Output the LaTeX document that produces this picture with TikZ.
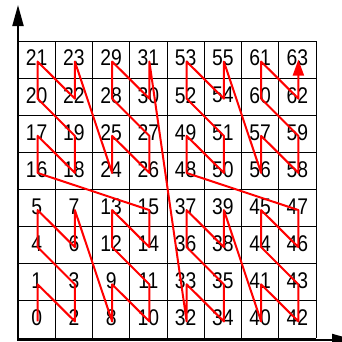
\documentclass[tikz,border=0pt]{standalone}
\usepackage{fontspec}
\setmainfont{Liberation Sans}
\usetikzlibrary{arrows.meta}
\tikzset{
  gridline/.style={draw=black, line width=1pt},
  axisline/.style={draw=black, line width=2pt},
  zline/.style={draw=red, line width=2pt, line join=round},
  numlabel/.style={inner sep=0pt, font=\fontsize{21}{21}\selectfont}
}
\begin{document}
\begin{tikzpicture}[x=1pt,y=-1pt]
\useasboundingbox (0,0) rectangle (342,341);
\clip (0,0) rectangle (342,341);
\fill[white] (0,0) rectangle (342,341);
% grid
\foreach \i in {0,...,8} {
  \draw[gridline] ({18+37.25*\i},41) -- ({18+37.25*\i},338);
  \draw[gridline] (18,{41+37.125*\i}) -- (316,{41+37.125*\i});
}
% numbers and curve points
\foreach \n in {0,...,63} {
  \pgfmathtruncatemacro\cx{mod(floor(\n/2),2)+2*mod(floor(\n/8),2)+4*mod(floor(\n/32),2)}
  \pgfmathtruncatemacro\cy{mod(\n,2)+2*mod(floor(\n/4),2)+4*mod(floor(\n/16),2)}
  \node[numlabel] (n\n) at ({18+37.25*(\cx+0.5)},{338-37.125*(\cy+0.5)-1.5}) {\scalebox{0.92}[1.08]{\n}};
  \coordinate (p\n) at ({18+37.25*(\cx+0.5)+1},{338-37.125*(\cy+0.5)+2});
}
% Z-order curve
\draw[zline, -{Triangle[length=16pt,width=11pt]}, shorten >=-2pt] (p0) \foreach \n in {1,...,63} { -- (p\n) };
% axes
\coordinate (origin) at (18,339.5);
\coordinate (ytip) at (18,5);
\coordinate (xtip) at (353,339.5);
\draw[axisline, -{Triangle[length=21pt,width=11pt]}] (origin) -- (ytip);
\draw[axisline, -{Triangle[length=21pt,width=11pt]}] (17,339.5) -- (xtip);
\end{tikzpicture}
\end{document}
